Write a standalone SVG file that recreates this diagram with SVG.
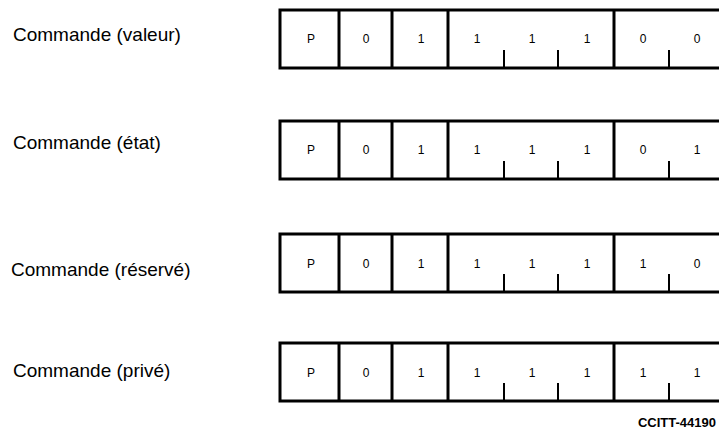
<svg xmlns="http://www.w3.org/2000/svg" width="719" height="432" viewBox="0 0 719 432">
<style>
.lbl{font-family:"Liberation Sans",Arial,sans-serif;font-size:19px;fill:#000}
.bit{font-family:"Liberation Sans",Arial,sans-serif;font-size:12px;fill:#000;text-anchor:middle}
.frame{fill:#fff;stroke:#000;stroke-width:3}
.div{stroke:#000;stroke-width:3}
.tick{stroke:#000;stroke-width:2}
.ref{font-family:"Liberation Sans",Arial,sans-serif;font-size:13px;font-weight:bold;fill:#000;text-anchor:end}
</style>
<defs>
<g id="frame">
<rect class="frame" x="280" y="0" width="450" height="58"/>
<line class="div" x1="339" y1="0" x2="339" y2="58"/>
<line class="div" x1="392" y1="0" x2="392" y2="58"/>
<line class="div" x1="448" y1="0" x2="448" y2="58"/>
<line class="div" x1="614" y1="0" x2="614" y2="58"/>
<line class="tick" x1="504" y1="40" x2="504" y2="58"/>
<line class="tick" x1="558" y1="40" x2="558" y2="58"/>
<line class="tick" x1="669" y1="40" x2="669" y2="58"/>
</g>
</defs>
<rect width="719" height="432" fill="#fff"/>
<g id="row-valeur">
<text class="lbl" x="13" y="41">Commande (valeur)</text>
<use href="#frame" y="10"/>
<g transform="translate(0,43)">
<text class="bit" x="311">P</text><text class="bit" x="366">0</text><text class="bit" x="421">1</text>
<text class="bit" x="477">1</text><text class="bit" x="532">1</text><text class="bit" x="587">1</text>
<text class="bit" x="643">0</text><text class="bit" x="697">0</text>
</g>
</g>
<g id="row-etat">
<text class="lbl" x="13" y="149">Commande (état)</text>
<use href="#frame" y="121"/>
<g transform="translate(0,154)">
<text class="bit" x="311">P</text><text class="bit" x="366">0</text><text class="bit" x="421">1</text>
<text class="bit" x="477">1</text><text class="bit" x="532">1</text><text class="bit" x="587">1</text>
<text class="bit" x="643">0</text><text class="bit" x="697">1</text>
</g>
</g>
<g id="row-reserve">
<text class="lbl" x="11" y="276">Commande (réservé)</text>
<use href="#frame" y="234"/>
<g transform="translate(0,268)">
<text class="bit" x="311">P</text><text class="bit" x="366">0</text><text class="bit" x="421">1</text>
<text class="bit" x="477">1</text><text class="bit" x="532">1</text><text class="bit" x="587">1</text>
<text class="bit" x="643">1</text><text class="bit" x="697">0</text>
</g>
</g>
<g id="row-prive">
<text class="lbl" x="13" y="377">Commande (privé)</text>
<use href="#frame" y="343"/>
<g transform="translate(0,377)">
<text class="bit" x="311">P</text><text class="bit" x="366">0</text><text class="bit" x="421">1</text>
<text class="bit" x="477">1</text><text class="bit" x="532">1</text><text class="bit" x="587">1</text>
<text class="bit" x="643">1</text><text class="bit" x="697">1</text>
</g>
</g>
<g id="connectors"></g>
<text class="ref" x="716" y="427">CCITT-44190</text>
</svg>
